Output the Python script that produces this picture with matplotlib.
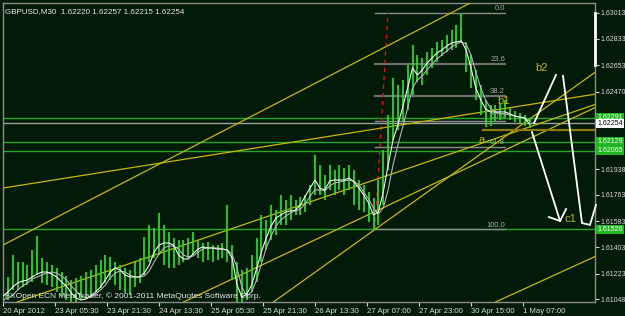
import numpy as np
import matplotlib
matplotlib.use("Agg")
import matplotlib.pyplot as plt

plt.rcParams['font.family'] = ['Liberation Sans', 'DejaVu Sans']

# GBPUSD M30, one sampled bar every 3 bars
bar_hi = [1.61214, 1.61200, 1.61351, 1.61303, 1.61303, 1.61282, 1.61385, 1.61481, 1.61330, 1.61303,
          1.61282, 1.61262, 1.61234, 1.61207, 1.61179, 1.61193, 1.61207, 1.61234, 1.61248, 1.61282,
          1.61316, 1.61351, 1.61337, 1.61303, 1.61282, 1.61262, 1.61248, 1.61303, 1.61330, 1.61474,
          1.61557, 1.61536, 1.61639, 1.61557, 1.61509, 1.61467, 1.61454, 1.61454, 1.61467, 1.61509,
          1.61454, 1.61433, 1.61440, 1.61419, 1.61419, 1.61433, 1.61694, 1.61419, 1.61303, 1.61248,
          1.61262, 1.61351, 1.61467, 1.61625, 1.61591, 1.61694, 1.61659, 1.61762, 1.61728, 1.61762,
          1.61728, 1.61749, 1.61762, 1.61831, 1.62037, 1.61968, 1.61900, 1.61968, 1.61934, 1.61968,
          1.61948, 1.61968, 1.61934, 1.61865, 1.61831, 1.61783, 1.61742, 1.61865, 1.62071, 1.62311,
          1.62565, 1.62517, 1.62551, 1.62654, 1.62791, 1.62723, 1.62702, 1.62743, 1.62771, 1.62812,
          1.62826, 1.62860, 1.62894, 1.62929, 1.63011, 1.62812, 1.62723, 1.62620, 1.62517, 1.62414,
          1.62380, 1.62380, 1.62393, 1.62414, 1.62359, 1.62339, 1.62325, 1.62311, 1.62291]
bar_lo = [1.61042, 1.61042, 1.61111, 1.61111, 1.61131, 1.61145, 1.61166, 1.61214, 1.61159, 1.61145,
          1.61131, 1.61097, 1.61069, 1.61042, 1.61028, 1.61028, 1.61042, 1.61056, 1.61076, 1.61097,
          1.61124, 1.61159, 1.61179, 1.61145, 1.61111, 1.61090, 1.61076, 1.61131, 1.61159, 1.61214,
          1.61303, 1.61330, 1.61351, 1.61282, 1.61262, 1.61262, 1.61282, 1.61303, 1.61330, 1.61351,
          1.61330, 1.61303, 1.61316, 1.61303, 1.61316, 1.61330, 1.61303, 1.61179, 1.61028, 1.61028,
          1.61042, 1.61097, 1.61166, 1.61303, 1.61385, 1.61454, 1.61488, 1.61557, 1.61557, 1.61591,
          1.61625, 1.61625, 1.61646, 1.61694, 1.61762, 1.61762, 1.61728, 1.61797, 1.61762, 1.61797,
          1.61762, 1.61797, 1.61694, 1.61659, 1.61646, 1.61577, 1.61522, 1.61557, 1.61694, 1.61934,
          1.62140, 1.62208, 1.62263, 1.62345, 1.62448, 1.62537, 1.62517, 1.62586, 1.62634, 1.62675,
          1.62716, 1.62743, 1.62757, 1.62771, 1.62812, 1.62606, 1.62496, 1.62414, 1.62311, 1.62229,
          1.62236, 1.62263, 1.62277, 1.62291, 1.62277, 1.62263, 1.62256, 1.62236, 1.62222]
ma_fast = [1.61069, 1.61097, 1.61131, 1.61159, 1.61172, 1.61179, 1.61200, 1.61220, 1.61234, 1.61234,
           1.61220, 1.61200, 1.61166, 1.61138, 1.61090, 1.61056, 1.61042, 1.61049, 1.61069, 1.61097,
           1.61131, 1.61179, 1.61234, 1.61262, 1.61248, 1.61214, 1.61200, 1.61200, 1.61200, 1.61227,
           1.61282, 1.61371, 1.61419, 1.61433, 1.61433, 1.61419, 1.61351, 1.61323, 1.61323, 1.61358,
           1.61392, 1.61406, 1.61399, 1.61399, 1.61392, 1.61392, 1.61385, 1.61330, 1.61145, 1.61063,
           1.61083, 1.61145, 1.61255, 1.61371, 1.61467, 1.61550, 1.61605, 1.61625, 1.61646, 1.61653,
           1.61659, 1.61694, 1.61755, 1.61810, 1.61865, 1.61810, 1.61797, 1.61858, 1.61865, 1.61865,
           1.61865, 1.61879, 1.61851, 1.61810, 1.61762, 1.61707, 1.61625, 1.61646, 1.61783, 1.61968,
           1.62140, 1.62243, 1.62366, 1.62496, 1.62634, 1.62586, 1.62620, 1.62668, 1.62702, 1.62736,
           1.62757, 1.62784, 1.62805, 1.62812, 1.62819, 1.62757, 1.62634, 1.62496, 1.62414, 1.62352,
           1.62332, 1.62332, 1.62332, 1.62332, 1.62318, 1.62304, 1.62297, 1.62291, 1.62249]
ma_slow = [1.61042, 1.61056, 1.61076, 1.61111, 1.61138, 1.61159, 1.61186, 1.61200, 1.61214, 1.61227,
           1.61234, 1.61227, 1.61207, 1.61179, 1.61138, 1.61104, 1.61069, 1.61056, 1.61063, 1.61083,
           1.61111, 1.61145, 1.61193, 1.61227, 1.61241, 1.61234, 1.61214, 1.61200, 1.61200, 1.61207,
           1.61241, 1.61303, 1.61358, 1.61399, 1.61412, 1.61412, 1.61392, 1.61351, 1.61337, 1.61344,
           1.61371, 1.61392, 1.61399, 1.61399, 1.61399, 1.61392, 1.61385, 1.61358, 1.61262, 1.61131,
           1.61069, 1.61097, 1.61179, 1.61289, 1.61399, 1.61481, 1.61550, 1.61591, 1.61618, 1.61639,
           1.61653, 1.61666, 1.61701, 1.61755, 1.61797, 1.61797, 1.61790, 1.61824, 1.61845, 1.61851,
           1.61858, 1.61865, 1.61858, 1.61831, 1.61783, 1.61735, 1.61673, 1.61632, 1.61673, 1.61797,
           1.61968, 1.62105, 1.62229, 1.62359, 1.62496, 1.62551, 1.62579, 1.62620, 1.62661, 1.62695,
           1.62723, 1.62750, 1.62778, 1.62798, 1.62812, 1.62798, 1.62723, 1.62606, 1.62496, 1.62414,
           1.62359, 1.62332, 1.62318, 1.62318, 1.62311, 1.62304, 1.62297, 1.62291, 1.62270]
bar_step = 3

time_ticks = [0, 32, 64, 96, 128, 160, 192, 224, 256, 288, 320]
time_labels = ["20 Apr 2012", "23 Apr 05:30", "23 Apr 21:30", "24 Apr 13:30", "25 Apr 05:30",
               "25 Apr 21:30", "26 Apr 13:30", "27 Apr 07:00", "27 Apr 23:00", "30 Apr 15:00",
               "1 May 07:00"]
price_ticks = [1.63013, 1.62833, 1.62653, 1.62470, 1.61938, 1.61763, 1.61583, 1.61403, 1.61223, 1.61048]

# horizontal levels and current bid
green_levels = [1.62291, 1.62129, 1.62065, 1.61526]
bid = 1.62254

# fibonacci retracement
fib_t = (228.9, 308.9)
fib_high, fib_low = 1.63010, 1.61526
fib_levels = [0.0, 23.6, 38.2, 50.0, 61.8, 100.0]

# yellow trendlines (two anchor points each: time, price)
trendlines = [((53.5, 1.61728), (219.7, 1.62688)),
              ((0.0, 1.61810), (287.4, 1.62318)),
              ((12.3, 1.61042), (232.0, 1.61879)),
              ((182.8, 1.61406), (363.7, 1.62359)),
              ((182.8, 1.61159), (363.7, 1.62599)),
              ((305.8, 1.61042), (363.7, 1.61337))]
flat_line = (295.4, 1.62208)
fib_trend = ((228.9, 1.61522), (236.9, 1.63011))

# projected wave paths
wave_a = ([326.8, 340.3], [1.62256, 1.62586])
wave_b = ([325.5, 342.8], [1.62194, 1.61584])
wave_b_head = ([336.0, 342.8, 346.5], [1.61611, 1.61584, 1.61666])
wave_c = ([344.6, 356.3, 361.2, 364.9], [1.62579, 1.61570, 1.61557, 1.61694])

wave_labels = [("b2", 331.1, 1.62634), ("c1", 348.9, 1.61598), ("b1", 308.3, 1.62407), ("a", 294.8, 1.62140)]

bg = '#021a08'
fig = plt.figure(figsize=(6.25, 3.16), dpi=100, facecolor=bg)
ax = fig.add_axes([3 / 625, 14 / 316, 592 / 625, 299 / 316], facecolor=bg)
ax.set_xlim(0, 364.3)
ax.set_ylim(1.610283, 1.630794)

t = np.arange(len(bar_hi)) * bar_step

for lv in green_levels:
    ax.axhline(lv, color='#24a824', lw=1, zorder=1)
ax.axhline(bid, color='#a0a0a0', lw=1, zorder=1)

# fib
rng = fib_high - fib_low
for lv in fib_levels:
    p = fib_high - rng * lv / 100
    thick = lv in (23.6, 38.2)
    ax.plot(fib_t, [p, p], color='#6e6e6e' if thick else '#8c8c8c', lw=1.6 if thick else 1, zorder=2)
    ax.text(fib_t[1], p + 0.00006, f"{lv:.1f}", color='#a8a8a8', fontsize=5.5,
            ha='right', va='bottom', zorder=2)
ax.plot([fib_trend[0][0], fib_trend[1][0]], [fib_trend[0][1], fib_trend[1][1]],
        color='#e01010', lw=1, ls=(0, (3, 3)), zorder=2)

for p0, p1 in trendlines:
    ax.axline(p0, p1, color='#c8b800', lw=0.9, zorder=3)
ax.plot([flat_line[0], 364.3], [flat_line[1], flat_line[1]], color='#8c7a10', lw=1.6, zorder=3)

ax.vlines(t, bar_lo, bar_hi, colors='#2ad42a', lw=1.3, zorder=4)
ax.plot(t, ma_slow, color='#b4b4b4', lw=0.8, zorder=5)
ax.plot(t, ma_fast, color='#f4f4f4', lw=0.8, zorder=5)

for xs, ys in (wave_a, wave_b, wave_b_head, wave_c):
    ax.plot(xs, ys, color='white', lw=1.3, zorder=6, clip_on=False, solid_joinstyle='miter')

for txt, x, y in wave_labels:
    ax.text(x, y, txt, color='#c8b400', fontsize=8, ha='center', va='center', zorder=7)

# axes styling
for s in ax.spines.values():
    s.set_color('#8c8c8c')
    s.set_linewidth(1)
ax.yaxis.tick_right()
ax.set_yticks(price_ticks)
ax.set_yticklabels([f"{p:.5f}" for p in price_ticks])
ax.set_xticks(time_ticks)
ax.set_xticklabels(time_labels, ha='left')
ax.tick_params(axis='x', colors='#d8d8d8', labelsize=5.6, length=3, width=0.8, pad=1.5)
ax.tick_params(axis='y', colors='#d8d8d8', labelsize=5.0, length=3, width=0.8, pad=1)

# current-level boxes on price scale
ytr = ax.get_yaxis_transform()
for lv in green_levels:
    ax.text(1.004, lv, f"{lv:.5f}", transform=ytr, color='white', fontsize=5.0, ha='left', va='center',
            bbox=dict(boxstyle='square,pad=0.15', fc='#22b422', ec='none'), clip_on=False)
ax.text(1.004, bid, f"{bid:.5f}", transform=ytr, color='black', fontsize=5.0, ha='left', va='center',
        bbox=dict(boxstyle='square,pad=0.15', fc='white', ec='none'), clip_on=False)
ax.plot([1.0, 1.0], [1.63013, 1.62653], transform=ytr, color='white', lw=2, clip_on=False, zorder=8)

ax.text(0.004, 0.982, "GBPUSD,M30  1.62220 1.62257 1.62215 1.62254", transform=ax.transAxes,
        color='#e8e8e8', fontsize=5.8, ha='left', va='top')
ax.text(0.003, 0.02, "FXOpen ECN MetaTrader, \u00a9 2001-2011 MetaQuotes Software Corp.", transform=ax.transAxes,
        color='#e8e8e8', fontsize=6, ha='left', va='center', zorder=9)

fig.savefig("out.png", dpi=100, facecolor=bg)
